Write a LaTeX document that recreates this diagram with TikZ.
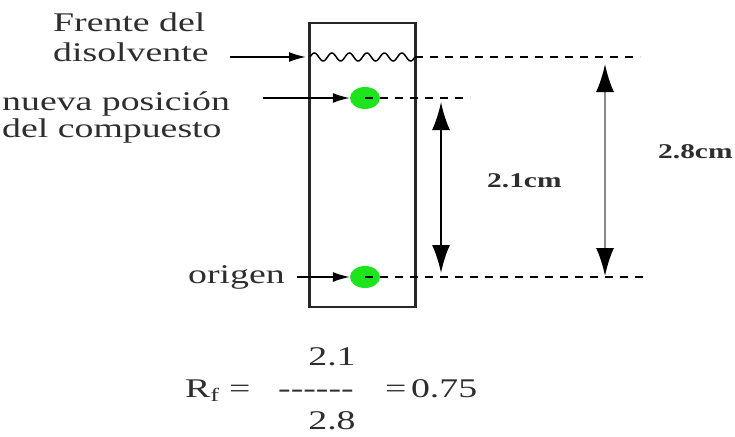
\documentclass[tikz,border=0pt]{standalone}
\usepackage{fontspec}
\setmainfont[FakeStretch=1.4]{Liberation Serif}
\usetikzlibrary{arrows.meta,shapes.geometric}
\definecolor{txt}{HTML}{2E2E2E}
\definecolor{spotgreen}{RGB}{30,228,30}
\definecolor{shaftgray}{HTML}{8A8A8A}
\begin{document}
\begin{tikzpicture}[x=1pt,y=-1pt,
  lbl/.style={inner sep=0pt, anchor=base west, text=txt, font=\fontsize{27}{30}\selectfont},
  dimlbl/.style={inner sep=0pt, anchor=base west, text=txt, font=\fontsize{21}{26}\selectfont\bfseries},
  ptr/.style={-{Latex[length=17pt,width=10pt]}, line width=1.6pt},
  guide/.style={dash pattern=on 8pt off 7pt, line width=1.6pt},
  dimarrow/.style={{Latex[length=28pt,width=18pt]}-{Latex[length=28pt,width=18pt]}, line width=2.2pt},
  spot/.style={ellipse, fill=spotgreen, minimum width=30pt, minimum height=22pt, inner sep=0pt}]
\useasboundingbox (0,0) rectangle (735,436);

% plate
\node[draw=black!85, line width=2.4pt, minimum width=106pt, minimum height=284pt, inner sep=0pt] (plate) at (362.5,165) {};

% solvent front
\coordinate (frontL) at (310,57);
\coordinate (frontR) at (415,57);
\draw[line width=1.5pt] plot[domain=310:415, samples=150, smooth] (\x, {57 - 4*sin((\x-310)/105*6*360)});

% spots
\node[spot] (newspot) at (365,98) {};
\node[spot] (origspot) at (365,277) {};

% guide lines
\coordinate (frontend) at (640,57);
\coordinate (newend) at (470,98);
\coordinate (origend) at (648,277);
\draw[guide] (frontR) -- (frontend);
\draw[guide] (newspot.center) -- (newend);
\draw[guide] (origspot.center) -- (origend);

% labels on the left
\node[lbl] (frente) at (53,32) {Frente del};
\node[lbl] (disol) at (53,62) {disolvente};
\node[lbl] (nueva) at (2,110) {nueva posición};
\node[lbl] (delcomp) at (2,137) {del compuesto};
\node[lbl] (origen) at (188,283) {origen};

% pointers
\coordinate (p1s) at (230,57);
\coordinate (p1e) at (306,57);
\coordinate (p2s) at (263,98);
\coordinate (p3s) at (297,277);
\draw[ptr] (p1s) -- (p1e);
\draw[ptr] (p2s) -- (newspot.west);
\draw[ptr] (p3s) -- (origspot.west);

% dimension arrows
\coordinate (a21t) at (441,102);
\coordinate (a21b) at (441,273);
\draw[dimarrow] (a21t) -- (a21b);
\coordinate (a28t) at (605,64);
\coordinate (a28b) at (605,276);
\draw[line width=2.2pt, draw=shaftgray, {Latex[length=28pt,width=18pt,color=black]}-{Latex[length=28pt,width=18pt,color=black]}] (a28t) -- (a28b);

\node[dimlbl] (l21) at (487,187) {2.1cm};
\node[dimlbl] (l28) at (658,158) {2.8cm};

% formula
\node[lbl, anchor=base] (num) at (332,365) {2.1};
\node[lbl] (rf) at (185,397) {R\textsubscript{f} =};
\node[lbl] (bar) at (278,397) {{-}{-}{-}{-}{-}{-}};
\node[lbl] (res) at (385,397) {=\,0.75};
\node[lbl, anchor=base] (den) at (332,429) {2.8};
\end{tikzpicture}
\end{document}
